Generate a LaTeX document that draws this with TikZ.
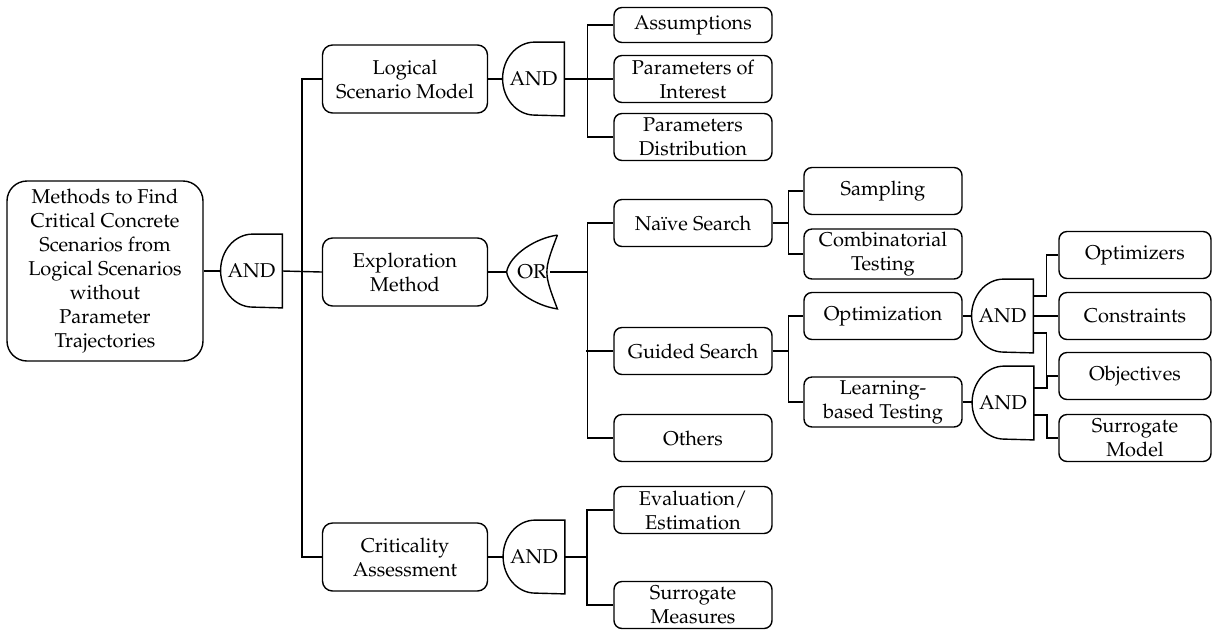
\documentclass[tikz,border=0pt]{standalone}
\usepackage[T1]{fontenc}
\usepackage{mathpazo}
\tikzset{
  base/.style={draw, line width=0.7pt, align=center, inner sep=0pt, font=\fontsize{10}{12}\selectfont},
  rootbox/.style={base, rounded corners=10pt, minimum width=98pt, minimum height=90pt},
  lvlbox/.style={base, rounded corners=5pt, minimum width=82.5pt, minimum height=34pt},
  leafbox/.style={base, rounded corners=4pt, minimum width=79pt, minimum height=23.5pt},
  rbox/.style={base, rounded corners=4pt, minimum width=76pt, minimum height=23.5pt},
  gatenode/.style={inner sep=0pt, minimum width=30.5pt, minimum height=36.5pt, font=\fontsize{10}{12}\selectfont},
  ornode/.style={inner sep=0pt, minimum width=25pt, minimum height=36.5pt, font=\fontsize{10}{12}\selectfont},
  gateline/.style={line width=0.7pt},
  conn/.style={line width=0.7pt}
}
\newcommand\andgate[1]{\draw[gateline] (#1.north east) -- ([xshift=16pt]#1.north west) arc[start angle=90,end angle=270,x radius=16pt,y radius=18.25pt] -- (#1.south east) -- cycle;}
\newcommand\orgate[1]{\draw[gateline] (#1.north east) .. controls ([shift={(-11pt,-1.5pt)}]#1.north east) and ([shift={(1.5pt,8.5pt)}]#1.west) .. (#1.west) .. controls ([shift={(1.5pt,-8.5pt)}]#1.west) and ([shift={(-11pt,1.5pt)}]#1.south east) .. (#1.south east) .. controls ([xshift=-7pt]#1.east) .. (#1.north east);}
\begin{document}
\begin{tikzpicture}[x=0.5pt,y=-0.5pt]
\useasboundingbox (0,0) rectangle (1212,629);
% root
\node[rootbox] (root) at (105,271) {Methods to Find\\Critical Concrete\\Scenarios from\\Logical Scenarios\\without\\Parameter\\Trajectories};
\node[gatenode] (g0) at (251.5,271) {AND};
% level 1
\node[lvlbox] (lsm) at (405,79) {Logical\\Scenario Model};
\node[lvlbox] (ex) at (405,272) {Exploration\\Method};
\node[lvlbox] (ca) at (405,557) {Criticality\\Assessment};
\node[gatenode] (g1) at (533.5,79) {AND};
\node[ornode] (g2) at (532,272) {OR};
\node[gatenode] (g3) at (534,557) {AND};
% level 2
\node[leafbox, minimum height=17.5pt] (ass) at (693,25) {Assumptions};
\node[leafbox] (poi) at (693,79) {Parameters of\\Interest};
\node[leafbox] (pd) at (693,137) {Parameters\\Distribution};
\node[leafbox] (naive) at (693,223) {Na\"{\i}ve Search};
\node[leafbox] (guided) at (693,351) {Guided Search};
\node[leafbox] (others) at (693,438) {Others};
\node[leafbox] (eval) at (693,510) {Evaluation/\\Estimation};
\node[leafbox] (smeas) at (693,605) {Surrogate\\Measures};
% level 3
\node[leafbox] (samp) at (883,191) {Sampling};
\node[leafbox, minimum height=25pt] (comb) at (883,254) {Combinatorial\\Testing};
\node[leafbox] (opt) at (883,316) {Optimization};
\node[leafbox, minimum height=25pt] (lbt) at (883,402) {Learning-\\based Testing};
\node[gatenode] (g4) at (1002.5,316) {AND};
\node[gatenode] (g5) at (1003,403) {AND};
% level 4
\node[rbox] (optz) at (1135,255) {Optimizers};
\node[rbox] (cons) at (1135,316) {Constraints};
\node[rbox] (obj) at (1135,376) {Objectives};
\node[rbox] (smod) at (1135,438) {Surrogate\\Model};
% gate shapes
\andgate{g0}\andgate{g1}\andgate{g3}\andgate{g4}\andgate{g5}
\orgate{g2}
% connectors
\draw[conn] (root.east) -- (g0.west);
\draw[conn] (g0.east) -- (ex.west);
\draw[conn] (lsm.west) -- ++(-20,0) |- (ca.west);
\draw[conn] (lsm.east) -- (g1.west);
\draw[conn] (g1.east) -- ++(23,0) |- (ass.west);
\draw[conn] (g1.east) -- ++(23,0) |- (pd.west);
\draw[conn] (g1.east) -- (poi.west);
\draw[conn] (ex.east) -- (g2.west);
\draw[conn] ([xshift=-3.5pt]g2.east) -- ++(37,0) |- (naive.west);
\draw[conn] ([xshift=-3.5pt]g2.east) -- ++(37,0) |- (others.west);
\draw[conn] (guided.west) -- ++(-27,0);
\draw[conn] (naive.east) -- ++(16,0) |- (samp.west);
\draw[conn] (naive.east) -- ++(16,0) |- (comb.west);
\draw[conn] (guided.east) -- ++(16,0) |- (opt.west);
\draw[conn] (guided.east) -- ++(16,0) |- (lbt.west);
\draw[conn] (opt.east) -- (g4.west);
\draw[conn] (lbt.east) -- (lbt.east -| g5.west);
\draw[conn] ([yshift=10pt]g4.east) -- ++(13,0) |- (optz.west);
\draw[conn] (cons.west -| g4.east) -- (cons.west);
\draw[conn] ([yshift=-8.5pt]g4.east) -- ++(13,0) |- (obj.west);
\draw[conn] ([yshift=7.5pt]g5.east) -- ++(13,0) |- (obj.west);
\draw[conn] ([yshift=-6pt]g5.east) -- ++(13,0) |- (smod.west);
\draw[conn] (ca.east) -- (g3.west);
\draw[conn] (g3.east) -- ++(22,0) |- (eval.west);
\draw[conn] (g3.east) -- ++(22,0) |- (smeas.west);
\end{tikzpicture}
\end{document}
